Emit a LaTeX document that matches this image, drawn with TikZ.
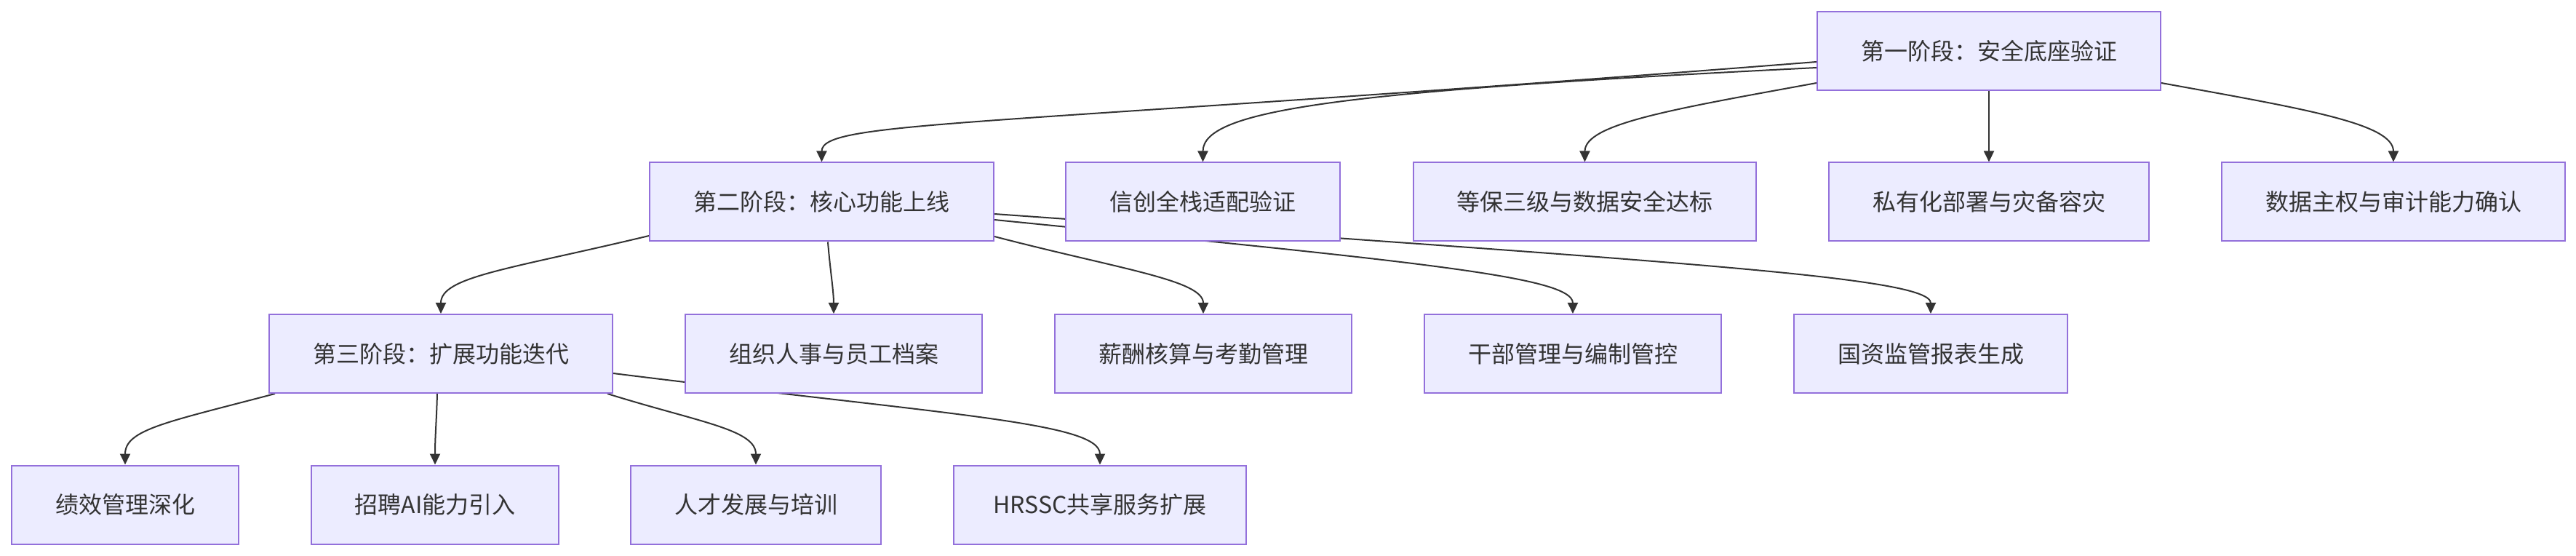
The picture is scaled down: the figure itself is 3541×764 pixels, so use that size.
\documentclass[tikz,border=0pt]{standalone}
\usepackage{fontspec}
\newfontfamily\cjk{Noto Sans CJK SC}
\usetikzlibrary{arrows.meta,backgrounds}
\definecolor{boxfill}{HTML}{ECECFF}
\definecolor{boxline}{HTML}{9370DB}
\definecolor{ink}{HTML}{333333}
\tikzset{
  box/.style={draw=boxline, fill=boxfill, line width=1pt, minimum height=54pt, inner sep=0pt,
    text=ink, font=\cjk\fontsize{16pt}{19pt}\selectfont},
  link/.style={draw=ink, line width=1pt, -{Triangle[length=7.5pt,width=7pt]}}
}
\begin{document}
\begin{tikzpicture}[x=0.5pt,y=-0.5pt]
\useasboundingbox (0,0) rectangle (3541,764);
% row 1
\node[box, minimum width=236pt] (P1) at (2734,70) {第一阶段：安全底座验证};
% row 2
\node[box, minimum width=236.5pt] (P2) at (1129.5,277.5) {第二阶段：核心功能上线};
\node[box, minimum width=188.5pt] (XC) at (1653.5,277.5) {信创全栈适配验证};
\node[box, minimum width=235.5pt] (DB) at (2178.5,277.5) {等保三级与数据安全达标};
\node[box, minimum width=220pt] (SY) at (2734,277.5) {私有化部署与灾备容灾};
\node[box, minimum width=236pt] (SJ) at (3290,277.5) {数据主权与审计能力确认};
% row 3
\node[box, minimum width=236pt] (P3) at (606,486) {第三阶段：扩展功能迭代};
\node[box, minimum width=204pt] (ZZ) at (1146,486) {组织人事与员工档案};
\node[box, minimum width=204pt] (XB) at (1654,486) {薪酬核算与考勤管理};
\node[box, minimum width=204pt] (GB) at (2162,486) {干部管理与编制管控};
\node[box, minimum width=188pt] (GZ) at (2654,486) {国资监管报表生成};
% row 4
\node[box, minimum width=156pt] (JX) at (172,693.5) {绩效管理深化};
\node[box, minimum width=170pt] (ZP) at (598,693.5) {招聘AI能力引入};
\node[box, minimum width=172pt] (RC) at (1039,693.5) {人才发展与培训};
\node[box, minimum width=201pt] (HR) at (1512,693.5) {HRSSC共享服务扩展};
\begin{pgfonlayer}{background}
\fill[white] (0,0) rectangle (3541,764);
% from phase 1
\draw[link] ([yshift=-7.5pt]P1.west) .. controls (1350,175) and (1129.5,165) .. (P2.north);
\draw[link] ([yshift=-11.5pt]P1.west) .. controls (1850,125) and (1653.5,150) .. (XC.north);
\draw[link] ([yshift=-22pt]P1.west) .. controls (2300,150) and (2178.5,170) .. (DB.north);
\draw[link] (P1.south) -- (SY.north);
\draw[link] ([yshift=-22pt]P1.east) .. controls (3170,150) and (3290,170) .. (SJ.north);
% from phase 2
\draw[link] ([yshift=-23.25pt]P2.west) .. controls (700,370) and (606,380) .. (P3.north);
\draw[link] ([xshift=4.25pt]P2.south) .. controls (1141,370) and (1146,400) .. (ZZ.north);
\draw[link] ([yshift=-23.75pt]P2.east) .. controls (1540,370) and (1654,385) .. (XB.north);
\draw[link] ([yshift=-12.25pt]P2.east) .. controls (1950,360) and (2162,380) .. (GB.north);
\draw[link] ([yshift=-8.25pt]P2.east) .. controls (2300,360) and (2654,380) .. (GZ.north);
% from phase 3
\draw[link] ([xshift=-114pt]P3.south) .. controls (230,580) and (172,590) .. (JX.north);
\draw[link] ([xshift=-2.5pt]P3.south) .. controls (600,580) and (598,600) .. (ZP.north);
\draw[link] ([xshift=114.5pt]P3.south) .. controls (960,580) and (1039,590) .. (RC.north);
\draw[link] ([yshift=-13.5pt]P3.east) .. controls (1300,570) and (1512,580) .. (HR.north);
\end{pgfonlayer}
\end{tikzpicture}
\end{document}
